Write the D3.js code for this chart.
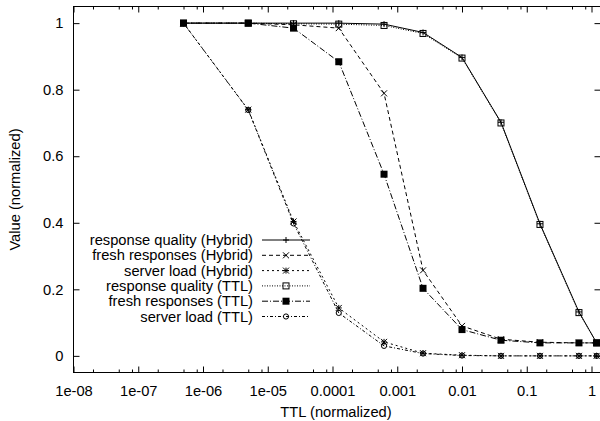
<!DOCTYPE html>
<html>
<head>
<meta charset="utf-8">
<script src="https://cdn.jsdelivr.net/npm/d3@7"></script>
<style>
  body { margin: 0; background: #fff; }
  svg { display: block; background: #fff; }
  text { font-family: "Liberation Sans", Arial, Helvetica, sans-serif; font-size: 14.7px; fill: #000; }
</style>
</head>
<body>
<svg id="chart" width="600" height="421"></svg>
<script>
// Normalized TTL sample points (x axis, log scale)
const ttl = [5e-7, 5e-6, 2.5e-5, 1.25e-4, 6.25e-4, 2.5e-3, 0.01, 0.04, 0.16, 0.64, 1.2];

// Normalized measurements per TTL value
const qualityHybrid = [1.0, 1.0, 1.0, 1.0, 0.997, 0.972, 0.897, 0.702, 0.397, 0.132, 0.039];
const freshHybrid   = [1.0, 1.0, 0.995, 0.985, 0.789, 0.257, 0.09, 0.05, 0.041, 0.039, 0.039];
const loadHybrid    = [1.0, 0.74, 0.404, 0.144, 0.042, 0.008, 0.002, 0.0, 0.0, 0.0, 0.0];
const qualityTTL    = [1.0, 1.0, 0.998, 0.997, 0.993, 0.969, 0.895, 0.70, 0.395, 0.13, 0.039];
const freshTTL      = [1.0, 1.0, 0.985, 0.884, 0.546, 0.203, 0.079, 0.047, 0.039, 0.039, 0.039];
const loadTTL       = [1.0, 0.739, 0.398, 0.129, 0.030, 0.007, 0.001, 0.0, 0.0, 0.0, 0.0];

const seriesNames = [
  "response quality (Hybrid)",
  "fresh responses (Hybrid)",
  "server load (Hybrid)",
  "response quality (TTL)",
  "fresh responses (TTL)",
  "server load (TTL)"
];

const xTickValues = [1e-8, 1e-7, 1e-6, 1e-5, 1e-4, 1e-3, 1e-2, 1e-1, 1];
const xTickLabels = ["1e-08", "1e-07", "1e-06", "1e-05", "0.0001", "0.001", "0.01", "0.1", "1"];
const yTickValues = [0, 0.2, 0.4, 0.6, 0.8, 1];
const yTickLabels = ["0", "0.2", "0.4", "0.6", "0.8", "1"];
const xLabel = "TTL (normalized)";
const yLabel = "Value (normalized)";

// Line dash pattern and marker per series, in plotting order
const styles = [
  { dash: null,        marker: "plus" },
  { dash: "4,3",       marker: "cross" },
  { dash: "2,3",       marker: "star" },
  { dash: "1,1.5",     marker: "square" },
  { dash: "6,2,1,2",   marker: "filledSquare" },
  { dash: "3,2,1,2",   marker: "circle" }
];
const seriesValues = [qualityHybrid, freshHybrid, loadHybrid, qualityTTL, freshTTL, loadTTL];

const svg = d3.select("#chart");
const plotLeft = 73.5, plotRight = 600.5, plotTop = 6.5, plotBottom = 372.5;

const x = d3.scaleLog().domain([1e-8, 1.377]).range([plotLeft, plotRight]);
const y = d3.scaleLinear().domain([-0.05, 1.05]).range([plotBottom, plotTop]);

// Minor ticks at 2, 5 and 8 within each decade
const minorX = [];
for (let e = -8; e <= 0; e++) {
  [2, 5, 8].forEach(m => {
    const v = m * Math.pow(10, e);
    if (v < x.domain()[1]) minorX.push(v);
  });
}

function styleAxis(g) {
  g.select(".domain").remove();
  g.selectAll(".tick line").attr("stroke", "#000").attr("stroke-width", 1);
  g.selectAll("text").attr("fill", "#000");
  g.attr("font-size", null).attr("font-family", null);
}

// Bottom axis with labels
svg.append("g").attr("transform", `translate(0,${plotBottom})`)
  .call(d3.axisBottom(x).tickValues(xTickValues).tickFormat((d, i) => xTickLabels[i])
        .tickSizeInner(-6).tickSizeOuter(0).tickPadding(13.5))
  .call(styleAxis);
svg.append("g").attr("transform", `translate(0,${plotBottom})`)
  .call(d3.axisBottom(x).tickValues(minorX).tickFormat("").tickSizeInner(-3).tickSizeOuter(0))
  .call(styleAxis);
// Mirrored top ticks
svg.append("g").attr("transform", `translate(0,${plotTop})`)
  .call(d3.axisTop(x).tickValues(xTickValues).tickFormat("").tickSizeInner(-6).tickSizeOuter(0))
  .call(styleAxis);
svg.append("g").attr("transform", `translate(0,${plotTop})`)
  .call(d3.axisTop(x).tickValues(minorX).tickFormat("").tickSizeInner(-3).tickSizeOuter(0))
  .call(styleAxis);
// Left axis with labels
svg.append("g").attr("transform", `translate(${plotLeft},0)`)
  .call(d3.axisLeft(y).tickValues(yTickValues).tickFormat((d, i) => yTickLabels[i])
        .tickSizeInner(-6).tickSizeOuter(0).tickPadding(10))
  .call(styleAxis);
// Mirrored right ticks
svg.append("g").attr("transform", `translate(${plotRight},0)`)
  .call(d3.axisRight(y).tickValues(yTickValues).tickFormat("").tickSizeInner(-6).tickSizeOuter(0))
  .call(styleAxis);

// Frame
svg.append("rect")
  .attr("x", plotLeft).attr("y", plotTop)
  .attr("width", plotRight - plotLeft).attr("height", plotBottom - plotTop)
  .attr("fill", "none").attr("stroke", "#000").attr("stroke-width", 1);

// Axis titles
svg.append("text")
  .attr("x", (plotLeft + plotRight) / 2 - 1).attr("y", 417)
  .attr("text-anchor", "middle")
  .text(xLabel);
svg.append("text")
  .attr("transform", `translate(20,${(plotTop + plotBottom) / 2}) rotate(-90)`)
  .attr("text-anchor", "middle")
  .text(yLabel);

// Marker drawing
function drawMarker(g, kind, cx, cy) {
  const s = 3;
  if (kind === "plus") {
    g.append("path").attr("d", `M${cx - s},${cy}H${cx + s}M${cx},${cy - s}V${cy + s}`)
      .attr("stroke", "#000").attr("fill", "none");
  } else if (kind === "cross") {
    g.append("path").attr("d", `M${cx - s},${cy - s}L${cx + s},${cy + s}M${cx - s},${cy + s}L${cx + s},${cy - s}`)
      .attr("stroke", "#000").attr("fill", "none");
  } else if (kind === "star") {
    g.append("path").attr("d", `M${cx - s},${cy}H${cx + s}M${cx},${cy - s}V${cy + s}M${cx - s},${cy - s}L${cx + s},${cy + s}M${cx - s},${cy + s}L${cx + s},${cy - s}`)
      .attr("stroke", "#000").attr("fill", "none");
  } else if (kind === "square") {
    g.append("rect").attr("x", cx - s).attr("y", cy - s).attr("width", 2 * s).attr("height", 2 * s)
      .attr("stroke", "#000").attr("fill", "none");
  } else if (kind === "filledSquare") {
    g.append("rect").attr("x", cx - s - 0.5).attr("y", cy - s - 0.5).attr("width", 2 * s + 1).attr("height", 2 * s + 1)
      .attr("fill", "#000");
  } else if (kind === "circle") {
    g.append("circle").attr("cx", cx).attr("cy", cy).attr("r", 2.6)
      .attr("stroke", "#000").attr("fill", "none");
  }
}

const line = d3.line().x(d => x(d[0])).y(d => y(d[1]));
const plot = svg.append("g");

seriesValues.forEach((vals, i) => {
  const pts = ttl.map((t, j) => [t, vals[j]]);
  const g = plot.append("g");
  g.append("path")
    .attr("d", line(pts))
    .attr("fill", "none")
    .attr("stroke", "#000")
    .attr("stroke-width", 1)
    .attr("stroke-dasharray", styles[i].dash);
  pts.forEach(p => drawMarker(g, styles[i].marker, x(p[0]), y(p[1])));
});

// Legend
const legend = svg.append("g");
seriesNames.forEach((name, i) => {
  const ly = 240 + i * 15.3;
  legend.append("text")
    .attr("x", 253).attr("y", ly)
    .attr("dy", "0.35em")
    .attr("text-anchor", "end")
    .text(name);
  legend.append("path")
    .attr("d", `M262,${ly}H310`)
    .attr("stroke", "#000").attr("stroke-width", 1).attr("fill", "none")
    .attr("stroke-dasharray", styles[i].dash);
  drawMarker(legend, styles[i].marker, 286, ly);
});
</script>
</body>
</html>
